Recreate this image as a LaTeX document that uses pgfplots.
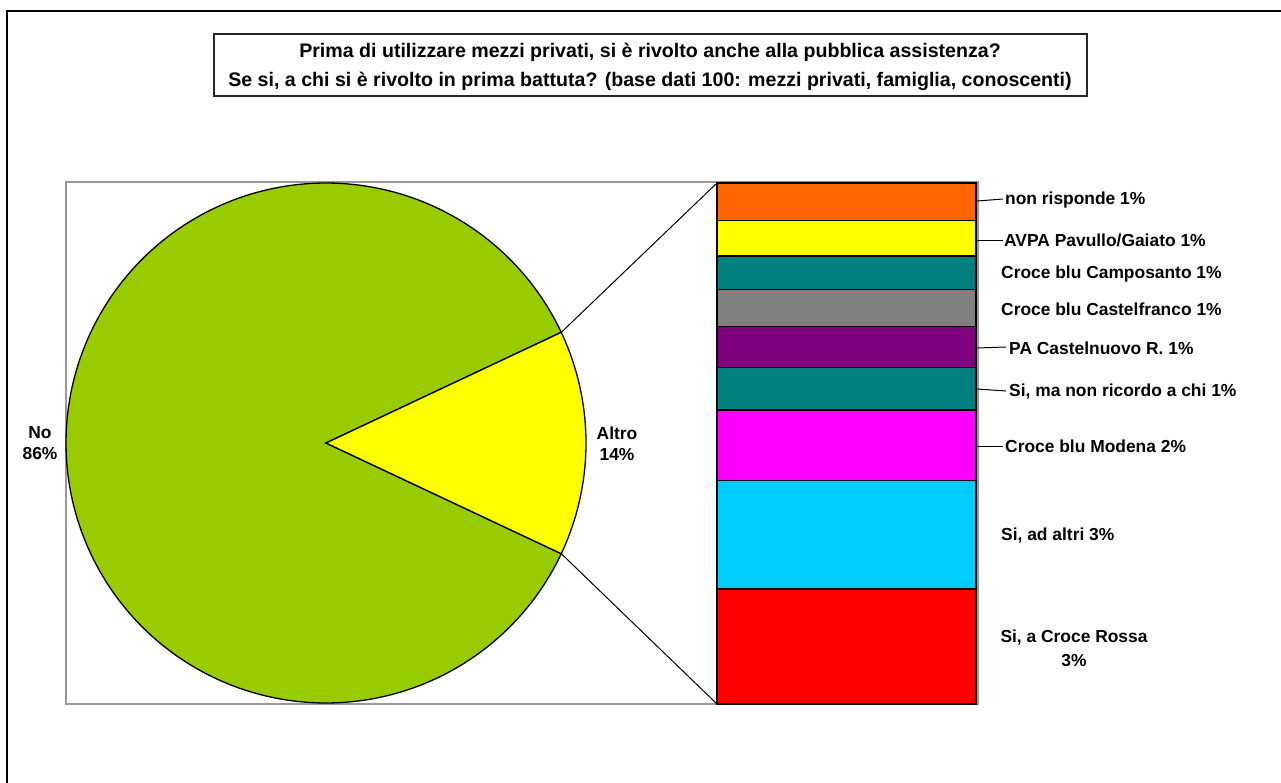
\documentclass[border=0pt]{standalone}
\usepackage{pgfplots}
\pgfplotsset{compat=1.18}
\usepackage{fontspec}
\setmainfont{Liberation Sans}
\definecolor{pgreen}{HTML}{99CC00}
\definecolor{pyellow}{HTML}{FFFF00}
\definecolor{porange}{HTML}{FF6600}
\definecolor{pteal}{HTML}{008080}
\definecolor{pgrey}{HTML}{808080}
\definecolor{ppurple}{HTML}{800080}
\definecolor{pmagenta}{HTML}{FF00FF}
\definecolor{pcyan}{HTML}{00CCFF}
\definecolor{pred}{HTML}{FF0000}
\newcommand{\lf}{\fontsize{17.4}{21}\selectfont\bfseries}
\newcommand{\tf}{\fontsize{19.6}{29}\selectfont\bfseries}
\begin{document}
\begin{tikzpicture}
\useasboundingbox (0,0) rectangle (1281pt,782pt);
\clip (0,0) rectangle (1281pt,782pt);
\fill[white] (0,0) rectangle (1281pt,782pt);
% background axis in pixel coordinates
\begin{axis}[at={(0,0)}, anchor=south west, scale only axis, width=1281pt, height=782pt,
  xmin=0, xmax=1281, ymin=0, ymax=782, y dir=reverse, hide axis, clip=false]
% outer frame
\draw[black, line width=2.5pt] (axis cs:7,11) rectangle (axis cs:1300,800);
% title
\draw[black!85, line width=1.5pt] (axis cs:214,34) rectangle (axis cs:1087,96);
\node[font=\tf, align=center] at (axis cs:650,67) {Prima di utilizzare mezzi privati, si è rivolto anche alla pubblica assistenza?\\Se si, a chi si è rivolto in prima battuta? (base dati 100: mezzi privati, famiglia, conoscenti)};
% plot area
\draw[gray!80, line width=2pt] (axis cs:66,182) rectangle (axis cs:978,704);
% pie: No 86, Altro 14 -> Altro spans +-25.2 deg
\addplot[fill=pgreen, draw=black, line width=1.3pt, domain=25.2:334.8, samples=240, variable=\t]
  ({326+260*cos(t)},{443-260*sin(t)}) -- (axis cs:326,443) -- cycle;
\addplot[fill=pyellow, draw=black, line width=1.3pt, domain=-25.2:25.2, samples=60, variable=\t]
  ({326+260*cos(t)},{443-260*sin(t)}) -- (axis cs:326,443) -- cycle;
% connectors
\addplot[black, line width=1pt] coordinates {(561.3,332.3) (717,183)};
\addplot[black, line width=1pt] coordinates {(561.3,553.7) (717,704)};
% pie labels
\node[font=\lf, align=center] at (axis cs:40,443) {No\\86\%};
\node[font=\lf, align=center] at (axis cs:617,444) {Altro\\14\%};
% bar labels and leaders
\draw[black, line width=1pt] (axis cs:977,201) -- (axis cs:1003,199);
\node[font=\lf, anchor=west, inner sep=0pt] at (axis cs:1005,200) {non risponde 1\%};
\draw[black, line width=1pt] (axis cs:977,240) -- (axis cs:1003,240);
\node[font=\lf, anchor=west, inner sep=0pt] at (axis cs:1004,240) {AVPA Pavullo/Gaiato 1\%};
\node[font=\lf, anchor=west, inner sep=0pt] at (axis cs:1001,274) {Croce blu Camposanto 1\%};
\node[font=\lf, anchor=west, inner sep=0pt] at (axis cs:1001,309) {Croce blu Castelfranco 1\%};
\draw[black, line width=1pt] (axis cs:977,348) -- (axis cs:1006,347);
\node[font=\lf, anchor=west, inner sep=0pt] at (axis cs:1009,348) {PA Castelnuovo R. 1\%};
\draw[black, line width=1pt] (axis cs:977,389) -- (axis cs:1006,391);
\node[font=\lf, anchor=west, inner sep=0pt] at (axis cs:1009,392) {Si, ma non ricordo a chi 1\%};
\draw[black, line width=1pt] (axis cs:977,446) -- (axis cs:1003,446);
\node[font=\lf, anchor=west, inner sep=0pt] at (axis cs:1005,446) {Croce blu Modena 2\%};
\node[font=\lf, anchor=west, inner sep=0pt] at (axis cs:1001,536) {Si, ad altri 3\%};
\node[font=\fontsize{17.4}{24}\selectfont\bfseries, align=center] at (axis cs:1074,648) {Si, a Croce Rossa\\3\%};
\end{axis}
% bar of the 14% "Altro"
\begin{axis}[at={(717pt,78pt)}, anchor=south west, scale only axis, width=259pt, height=521pt,
  xmin=-0.5, xmax=0.5, ymin=0, ymax=14, hide axis, clip=false, ybar stacked, bar width=259pt]
\addplot[fill=pred, draw=black, line width=1.3pt] coordinates {(0,3.090)};
\addplot[fill=pcyan, draw=black, line width=1.3pt] coordinates {(0,2.921)};
\addplot[fill=pmagenta, draw=black, line width=1.3pt] coordinates {(0,1.889)};
\addplot[fill=pteal, draw=black, line width=1.3pt] coordinates {(0,1.150)};
\addplot[fill=ppurple, draw=black, line width=1.3pt] coordinates {(0,1.088)};
\addplot[fill=pgrey, draw=black, line width=1.3pt] coordinates {(0,1.005)};
\addplot[fill=pteal, draw=black, line width=1.3pt] coordinates {(0,0.895)};
\addplot[fill=pyellow, draw=black, line width=1.3pt] coordinates {(0,0.949)};
\addplot[fill=porange, draw=black, line width=1.3pt] coordinates {(0,1.013)};
\end{axis}
\end{tikzpicture}
\end{document}
